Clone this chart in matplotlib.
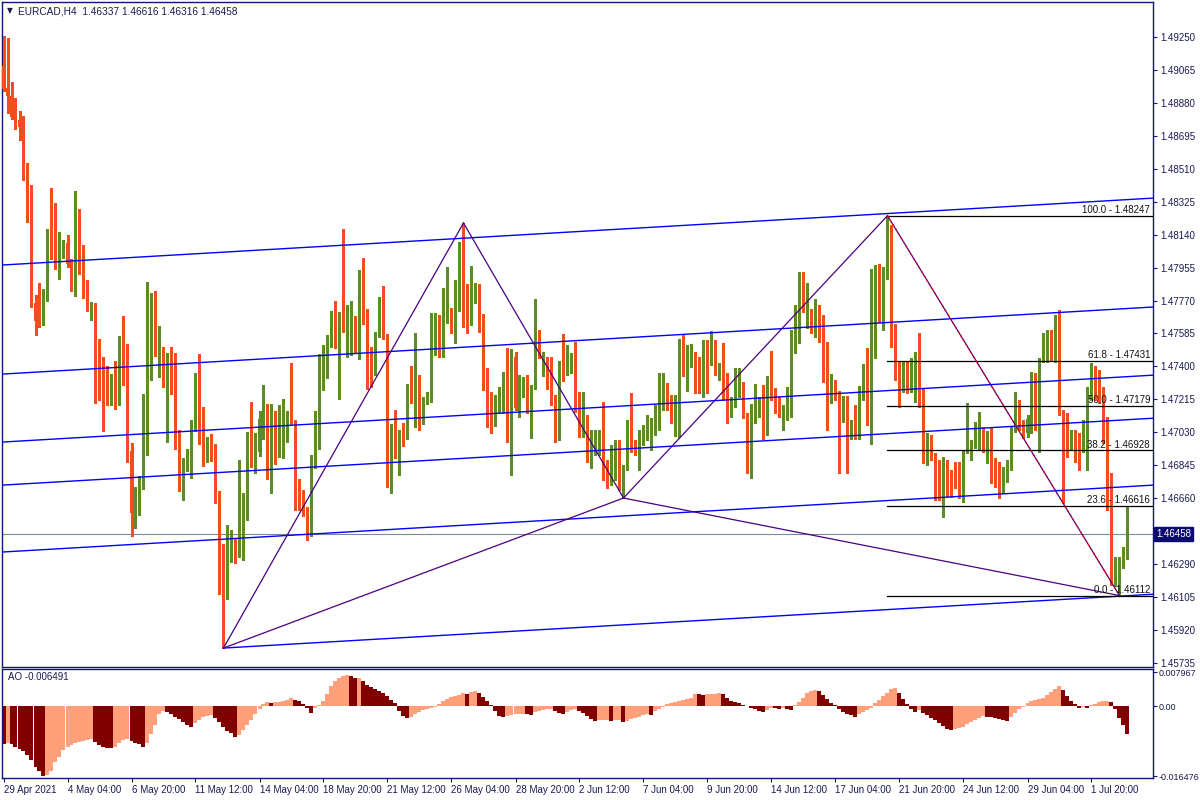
import numpy as np
import matplotlib
matplotlib.use("Agg")
import matplotlib.pyplot as plt
from matplotlib.transforms import blended_transform_factory

# ---------------- data (prices in points, 1e-5) ----------------
opens = [149088,148964,148919,148801,148785,148745,148464,148284,147756,147756,
147666,147773,148161,148127,147958,148065,148093,147981,147835,148116,
148043,147784,147722,147739,147346,147290,147239,147211,147301,147284,
147537,147514,146924,146503,146660,146750,147177,147632,147655,147380,
147458,147307,147385,147278,146964,146655,146846,146902,147065,147301,
147149,146902,146964,146908,146677,146385,146160,146357,146368,146340,
146430,146553,146975,146806,146919,147099,147172,146784,147042,146924,
147059,147070,147132,147087,146756,146632,146593,146497,146885,146947,
147278,147351,147526,147672,147644,147661,147616,147486,147621,147492,
147885,147661,147391,147368,147576,147683,147576,146857,147065,146958,
147031,147003,147273,147205,147346,147082,147211,147250,147626,147666,
147498,147711,147722,147711,147818,148043,147773,147644,147840,147846,
147616,147340,147115,147082,147194,147222,147363,147037,147453,147189,
147273,147329,147205,147284,147559,147351,147436,147278,147205,147082,
147413,147363,147413,147453,147160,147014,147065,146846,146924,146930,
147020,146778,146745,146778,146857,146778,146840,147082,146936,146834,
146992,147026,147031,147026,147076,147189,147222,147200,147149,147189,
147481,147351,147408,147458,147346,147340,147486,147419,147509,147351,
147374,147267,147155,147200,147239,147307,147127,146857,147127,147155,
147284,147059,147284,147273,147194,147048,147127,147166,147548,147706,
147908,147649,147711,147661,147728,147683,147368,147211,147312,147250,
147099,147228,147026,147048,147003,147267,147340,147172,147672,147756,
147655,147942,148133,147588,147385,147278,147385,147301,147368,147453,
147205,146857,146964,146902,146728,146677,146812,146801,146801,146722,
146671,146919,146958,146997,146997,147026,146924,147031,146874,146739,
146733,146761,146829,147042,147155,147082,147026,147031,147335,147026,
147436,147447,147526,147447,147621,147144,147082,146947,147031,147020,
146947,147014,147228,147346,147340,147239,147099,146750,146180,146125,
146323,146337]
highs = [149257,149245,148998,148908,148835,148807,148543,148419,147801,147869,
147835,148172,148402,148318,148155,148110,148138,148003,148386,148284,
148082,147885,147762,147756,147554,147453,147402,147357,147430,147571,
147683,147526,146969,146722,146784,147245,147874,147812,147824,147627,
147509,147475,147509,147475,147042,146885,146936,147099,147363,147470,
147172,147003,147020,146964,146700,146402,146508,146480,146435,146874,
146688,147031,147200,147026,147149,147295,147189,147189,147149,147183,
147217,147149,147419,147099,146767,146705,146610,146902,147149,147470,
147520,147576,147711,147767,147706,148172,147745,147767,147683,147942,
148009,147722,147509,147593,147790,147852,147582,147076,147155,147042,
147082,147301,147402,147588,147351,147228,147256,147700,147700,147689,
147840,147958,147728,147885,148099,148206,147863,147964,147869,147863,
147694,147391,147256,147239,147284,147368,147503,147498,147481,147351,
147340,147351,147295,147779,147604,147481,147453,147453,147239,147430,
147582,147520,147475,147537,147256,147256,147127,147042,147042,147042,
147200,146874,146958,146986,146986,146846,147099,147250,146986,147042,
147070,147127,147110,147183,147363,147363,147307,147239,147239,147554,
147576,147520,147526,147481,147453,147548,147548,147599,147548,147419,
147531,147363,147228,147391,147391,147312,147138,147189,147301,147228,
147295,147346,147486,147278,147228,147183,147284,147604,147745,147930,
147930,147869,147722,147779,147745,147689,147537,147357,147323,147262,
147233,147233,147099,147183,147290,147413,147503,147947,147970,147975,
147958,148247,148194,147638,147425,147425,147425,147447,147481,147588,
147278,147026,147014,146913,146874,146891,146874,146818,146863,146863,
146930,147194,146986,147087,147144,147059,147037,147059,146885,146863,
146834,146874,147059,147256,147211,147099,147127,147368,147363,147447,
147588,147604,147604,147689,147717,147155,147138,147042,147042,147026,
147099,147284,147419,147402,147380,147284,147115,146801,146329,146329,
146385,146616]
lows = [148948,148824,148790,148734,148672,148447,148211,147734,147576,147621,
147632,147767,148003,147947,147891,148009,147958,147824,147795,147919,
147784,147711,147661,147194,147211,147037,147183,147183,147160,147183,
147295,146863,146447,146492,146565,146711,146902,147323,147458,147340,
147284,146975,147245,146936,146700,146650,146812,146773,147037,146964,
146840,146863,146868,146632,146121,145817,146093,146301,146295,146329,
146312,146537,146834,146801,146896,146992,146767,146688,146851,146891,
146885,146975,147076,146593,146593,146559,146424,146447,146829,146936,
147267,147335,147509,147503,147217,147593,147453,147464,147475,147441,
147638,147273,147284,147351,147565,147554,146722,146688,146885,146789,
146952,146992,147194,147059,147042,147076,147189,147200,147464,147453,
147453,147644,147588,147531,147711,147621,147588,147632,147756,147593,
147267,147059,147026,147065,147138,147138,146975,146789,147155,147115,
147228,147138,146997,147273,147447,147346,147273,147183,146975,146986,
147318,147351,147363,147144,147003,147003,146863,146829,146902,146902,
146761,146716,146734,146761,146705,146660,146818,146919,146902,146818,
146958,146986,146930,147014,147042,147155,147155,147082,147009,147003,
147346,147262,147396,147250,147250,147228,147250,147408,147351,147323,
147211,147082,147115,147172,147228,147110,146801,146773,147082,147115,
146992,147014,147211,147138,147115,147042,147099,147115,147475,147531,
147706,147616,147588,147565,147537,147312,147042,147194,147211,146801,
147087,146801,146992,146992,146992,147211,147070,146964,147447,147649,
147604,147891,147509,147323,147172,147256,147250,147256,147200,147172,
146857,146846,146874,146649,146649,146553,146666,146666,146716,146660,
146638,146913,146874,146941,146936,146919,146857,146745,146722,146660,
146688,146750,146818,147031,147042,146997,147003,147026,147042,146919,
147425,147425,147436,147425,147127,146632,146891,146930,146863,146818,
146919,146818,147211,147211,147194,146969,146593,146172,146166,146112,
146267,146316]
closes = [148959,148919,148801,148785,148745,148464,148284,147756,147655,147666,
147779,148155,148127,147958,148065,148093,147975,147835,148116,148037,
147818,147728,147739,147340,147284,147233,147205,147301,147284,147537,
147503,146924,146576,146666,146756,147177,147649,147655,147481,147458,
147295,147385,147273,146964,146767,146851,146913,147070,147301,147144,
146902,146969,146902,146666,146385,146160,146340,146368,146340,146435,
146559,146981,146857,146924,147104,147172,146778,147042,146958,147070,
147082,147132,147082,146745,146632,146582,146497,146896,146952,147284,
147425,147531,147672,147649,147661,147616,147655,147616,147492,147885,
147644,147391,147380,147576,147683,147559,146857,147065,146913,147031,
146997,147273,147205,147340,147048,147222,147250,147632,147672,147492,
147807,147717,147711,147824,148048,147773,147700,147790,147846,147621,
147340,147115,147031,147194,147222,147363,147037,147453,147166,147273,
147329,147205,147290,147559,147453,147436,147278,147205,147082,147413,
147329,147419,147453,147160,147014,147070,146874,146947,146952,147026,
146773,146722,146874,146908,146722,146840,147082,146930,146913,146997,
147026,147031,147037,147082,147121,147222,147194,147149,147194,147475,
147447,147419,147458,147340,147335,147492,147402,147509,147357,147374,
147262,147160,147200,147250,147307,147121,146857,147138,147222,147200,
147054,147290,147262,147194,147189,147132,147166,147554,147717,147908,
147711,147706,147666,147728,147677,147363,147194,147312,147233,147099,
147228,147026,147082,147003,147278,147340,147172,147672,147869,147655,
147947,148133,147571,147385,147256,147391,147295,147380,147458,147200,
146885,146969,146902,146705,146705,146812,146677,146677,146722,146677,
146919,146958,146969,147031,147031,146930,147031,146750,146728,146722,
146761,146829,147042,147155,147059,147003,147104,147335,147059,147436,
147531,147531,147447,147621,147138,147082,146947,147031,146924,146919,
147020,147228,147340,147323,147211,147082,146745,146180,146233,146329,
146340,146458]

# Awesome Oscillator values
ao = [-0.008949,-0.008792,-0.008949,-0.009577,-0.010127,-0.010519,-0.011540,-0.012639,-0.014287,-0.015386,
-0.016476,-0.016328,-0.015229,-0.013267,-0.011932,-0.010362,-0.009577,-0.009263,-0.008792,-0.008478,
-0.008243,-0.008007,-0.007850,-0.008400,-0.009106,-0.009577,-0.009813,-0.009970,-0.009577,-0.008635,
-0.007929,-0.007693,-0.008164,-0.008635,-0.008949,-0.009577,-0.008635,-0.006594,-0.004396,-0.001884,
-0.001099,-0.001413,-0.001884,-0.002512,-0.003140,-0.003768,-0.004396,-0.005024,-0.003925,-0.003297,
-0.002669,-0.002277,-0.002041,-0.002826,-0.003847,-0.004867,-0.005809,-0.006437,-0.007379,-0.006751,
-0.005652,-0.004553,-0.003297,-0.001884,-0.000707,0.000471,0.000942,0.000785,0.000864,0.000942,
0.001099,0.001413,0.001963,0.001413,0.001099,0.000471,-0.000471,-0.001649,-0.000471,0.000314,
0.001256,0.002826,0.004789,0.005966,0.006594,0.007144,0.007379,0.007065,0.006516,0.006673,
0.005809,0.005024,0.004396,0.004004,0.003611,0.003062,0.002355,0.001492,0.000628,-0.001178,
-0.002355,-0.002905,-0.002512,-0.001963,-0.001413,-0.000942,-0.000628,-0.000393,-0.000157,0.000550,
0.001178,0.001727,0.002041,0.002355,0.002669,0.003062,0.002905,0.003219,0.003454,0.002983,
0.002198,0.001178,0.000157,-0.001178,-0.002355,-0.002591,-0.002355,-0.002120,-0.001963,-0.001884,
-0.001806,-0.001884,-0.002041,-0.001413,-0.001178,-0.000942,-0.000785,-0.000628,-0.001178,-0.001570,
-0.001806,-0.001413,-0.000942,-0.000628,-0.001178,-0.001727,-0.002355,-0.002983,-0.003533,-0.003376,
-0.003297,-0.003219,-0.003454,-0.003376,-0.003297,-0.003768,-0.003533,-0.003140,-0.002826,-0.002512,
-0.002198,-0.001884,-0.002041,-0.001178,-0.000628,-0.000314,0.000393,0.000707,0.000942,0.001099,
0.001335,0.001570,0.001963,0.002826,0.002748,0.002669,0.002748,0.002826,0.002905,0.002983,
0.002748,0.001884,0.001178,0.000942,0.000628,0.000314,-0.000050,-0.000550,-0.000785,-0.001099,
-0.001413,-0.000942,-0.000471,-0.000550,-0.000707,-0.000393,-0.000785,-0.000942,0.000157,0.001021,
0.001963,0.002983,0.003454,0.003768,0.003454,0.002669,0.001570,0.000785,0.000236,-0.000785,
-0.001413,-0.001884,-0.002198,-0.002591,-0.001963,-0.001413,-0.000942,-0.000471,0.000785,0.001413,
0.002355,0.003140,0.003925,0.004318,0.002983,0.001727,0.000471,-0.000628,-0.001413,-0.000942,
-0.001570,-0.002198,-0.002748,-0.003297,-0.003925,-0.004710,-0.005338,-0.005652,-0.005495,-0.005181,
-0.004867,-0.004318,-0.003768,-0.003297,-0.002826,-0.002355,-0.002512,-0.002669,-0.002826,-0.002983,
-0.003219,-0.003533,-0.002512,-0.001570,-0.000785,-0.000157,0.000785,0.001099,0.001413,0.001649,
0.001884,0.002512,0.003297,0.004082,0.004710,0.003768,0.002355,0.001178,0.000550,-0.000471,
-0.000236,-0.000471,0.000157,0.000550,0.000864,0.001099,0.001256,0.000864,-0.000785,-0.002748,
-0.004553,-0.006491]

title_text = "EURCAD,H4  1.46337 1.46616 1.46316 1.46458"
ao_label = "AO -0.006491"
current_price = 1.46458
price_ticks = [1.49250, 1.49065, 1.48880, 1.48695, 1.48510, 1.48325, 1.48140, 1.47955,
               1.47770, 1.47585, 1.47400, 1.47215, 1.47030, 1.46845, 1.46660, 1.46475,
               1.46290, 1.46105, 1.45920, 1.45735]
hidden_tick = 1.46475  # covered by the current-price box
ao_ticks = [0.007967, 0.0, -0.016476]
ao_tick_labels = ["0.007967", "0.00", "-0.016476"]
date_labels = ["29 Apr 2021", "4 May 04:00", "6 May 20:00", "11 May 12:00", "14 May 04:00",
               "18 May 20:00", "21 May 12:00", "26 May 04:00", "28 May 20:00", "2 Jun 12:00",
               "7 Jun 04:00", "9 Jun 20:00", "14 Jun 12:00", "17 Jun 04:00", "21 Jun 20:00",
               "24 Jun 12:00", "29 Jun 04:00", "1 Jul 20:00"]
date_step = 16

fib_pct = ["100.0", "61.8", "50.0", "38.2", "23.6", "0.0"]
fib_price = [1.48247, 1.47431, 1.47179, 1.46928, 1.46616, 1.46112]
fib_from_bar, fib_to_bar = 221, 279

# harmonic pattern pivots (bar index, price)
pivot_bar = [55, 115, 155, 221, 279]
pivot_price = [1.45817, 1.48206, 1.46660, 1.48247, 1.46112]
pivot_edges = [(0, 1), (1, 2), (2, 3), (3, 4), (0, 2), (2, 4)]

# channel lines: two anchors (bar, price); last one is a ray starting at its first anchor
chan_bar1 = [0, 0, 0, 0, 0, 55]
chan_p1 = [1.47970, 1.47357, 1.46975, 1.46733, 1.46357, 1.45817]
chan_bar2 = [280, 280, 280, 280, 280, 280]
chan_p2 = [1.48336, 1.47724, 1.47341, 1.47099, 1.46723, 1.46110]
chan_is_ray = [False, False, False, False, False, True]

# ---------------- styling ----------------
BULL = "#5b8c27"
BEAR = "#f24d1f"
AO_UP = "#ffa07a"
AO_DN = "#800000"
FRAME = "#14147a"
TXT = "#1a1a50"
FONT = ["Liberation Sans", "DejaVu Sans"]
plt.rcParams["font.family"] = FONT
FS = 7

W, H = 1200, 800
fig = plt.figure(figsize=(12, 8), dpi=100, facecolor="white")
L, R = 2, 1153
ax = fig.add_axes([L / W, 1 - 667 / H, (R - L) / W, (667 - 2) / H])
ax2 = fig.add_axes([L / W, 1 - 778 / H, (R - L) / W, (778 - 669) / H])

o = np.array(opens) / 1e5
h = np.array(highs) / 1e5
lo = np.array(lows) / 1e5
c = np.array(closes) / 1e5
h = np.maximum(h, np.maximum(o, c))
lo = np.minimum(lo, np.minimum(o, c))
x = np.arange(len(c))
xlim = ((L - 3.5) / 4, (R - 3.5) / 4)

# candles
up = c >= o
cols = np.where(up, BULL, BEAR)
ax.vlines(x, lo, h, colors=cols, linewidth=0.9, zorder=3, antialiased=False)
body_b = np.minimum(o, c)
body_h = np.maximum(np.abs(c - o), 0.00003)
ax.bar(x, body_h, bottom=body_b, width=0.8, color=cols, linewidth=0, zorder=4,
       antialiased=False)

# current price line
ax.axhline(current_price, color="#7b8a99", linewidth=0.8, zorder=2)

# channel lines
for b1, p1, b2, p2, ray in zip(chan_bar1, chan_p1, chan_bar2, chan_p2, chan_is_ray):
    if ray:
        slope = (p2 - p1) / (b2 - b1)
        xe = xlim[1] + 1
        ax.plot([b1, xe], [p1, p1 + slope * (xe - b1)], color="#0000ff", linewidth=1.0, zorder=5)
    else:
        ax.axline((b1, p1), (b2, p2), color="#0000ff", linewidth=1.0, zorder=5)

# pattern lines
for i, j in pivot_edges:
    ax.plot([pivot_bar[i], pivot_bar[j]], [pivot_price[i], pivot_price[j]],
            color="#4b0082", linewidth=0.9, zorder=6)

# fibo
ax.plot([fib_from_bar, fib_to_bar], [fib_price[0], fib_price[-1]], color="#ff0000",
        linewidth=0.9, linestyle=(0, (1.5, 2.5)), zorder=7)
trans_fib = blended_transform_factory(ax.transAxes, ax.transData)
for pct, pr in zip(fib_pct, fib_price):
    ax.plot([fib_from_bar, xlim[1] + 1], [pr, pr], color="black", linewidth=0.9, zorder=6)
    ax.text((1150 - L) / (R - L), pr + 0.00003, f"{pct} - {pr:.5f}", transform=trans_fib,
            ha="right", va="bottom", fontsize=FS, color="#111111", zorder=8)

ax.set_xlim(*xlim)
ax.set_ylim(1.457105, 1.494478)
ax.set_xticks([])
ax.yaxis.tick_right()
ax.set_yticks(price_ticks)
ax.set_yticklabels(["" if abs(t - hidden_tick) < 1e-7 else f"{t:.5f}" for t in price_ticks])
ax.tick_params(axis="y", direction="out", length=3, width=0.8, color=FRAME,
               labelsize=FS, labelcolor=TXT, pad=2)
for s in ax.spines.values():
    s.set_color(FRAME)
    s.set_linewidth(1.0)

# price box
trans_box = blended_transform_factory(ax.transAxes, ax.transData)
ax.text(1.0 + 3 / (R - L), current_price, f"{current_price:.5f}", transform=trans_box,
        ha="left", va="center", fontsize=FS, color="white", zorder=20, clip_on=False,
        bbox=dict(boxstyle="square,pad=0.25", facecolor="#0c0c6e", edgecolor="#0c0c6e"))

# title
fig.text(7 / W, 1 - 11 / H, "\u25bc", fontsize=5.5, color=TXT, va="center", ha="left",
         family=["DejaVu Sans"])
fig.text(18 / W, 1 - 11 / H, title_text, fontsize=FS + 0.3, color=TXT, va="center", ha="left")

# AO
aov = np.array(ao)
ao_cols = [AO_DN] + [AO_UP if aov[i] > aov[i - 1] else AO_DN for i in range(1, len(aov))]
ax2.bar(x, aov, width=1.0, color=ao_cols, linewidth=0, antialiased=False)
ax2.set_xlim(*xlim)
ax2.set_ylim(-0.01692, 0.0087)
ax2.yaxis.tick_right()
ax2.set_yticks(ao_ticks)
ax2.set_yticklabels(ao_tick_labels)
ax2.tick_params(axis="y", direction="out", length=3, width=0.8, color=FRAME,
                labelsize=6.5, labelcolor=TXT, pad=1)
ax2.set_xticks(np.arange(len(date_labels)) * date_step)
ax2.set_xticklabels(date_labels, ha="left")
ax2.tick_params(axis="x", direction="out", length=3, width=0.8, color=FRAME,
                labelsize=FS, labelcolor=TXT, pad=2)
for s in ax2.spines.values():
    s.set_color(FRAME)
    s.set_linewidth(1.0)
ax2.text(6 / (R - L), 1 - 8 / 109, ao_label, transform=ax2.transAxes, fontsize=FS,
         color=TXT, ha="left", va="center")

fig.savefig("out.png", dpi=100, facecolor="white")
